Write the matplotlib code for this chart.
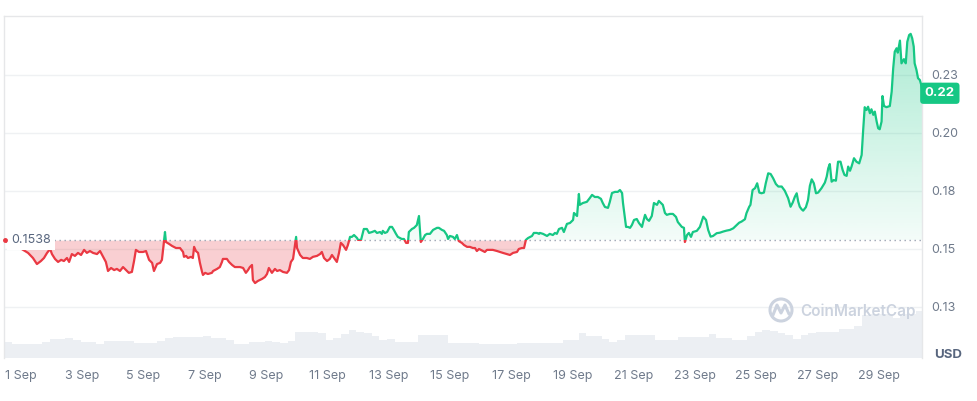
import numpy as np
import matplotlib
matplotlib.use('Agg')
import matplotlib.pyplot as plt
from matplotlib.colors import to_rgb
from matplotlib.patches import Rectangle, Ellipse
from matplotlib.lines import Line2D

plt.rcParams['font.family'] = ['Inter', 'DejaVu Sans']

GREEN = '#16c784'
RED = '#ea3943'
AXIS_TEXT = '#6f7a8b'

# days since 1 Sep 00:00
days_a = [-0.52, -0.36, -0.20, -0.03, 0.23, 0.39, 0.52, 0.65, 0.75, 0.85, 0.95,
          1.01, 1.11, 1.21, 1.31, 1.40, 1.50, 1.57, 1.66, 1.76, 1.86, 1.96,
          2.06, 2.15, 2.25, 2.35, 2.48, 2.58, 2.68, 2.77, 2.84, 2.94,
          3.04, 3.13, 3.23, 3.33, 3.43, 3.52, 3.62, 3.69, 3.75, 3.85, 3.98,
          4.08, 4.18, 4.28, 4.34, 4.44, 4.54, 4.60, 4.70, 4.73, 4.83, 4.93, 5.06]
price_a = [0.1538, 0.1522, 0.1513, 0.1504, 0.1483, 0.1461, 0.1435, 0.1448, 0.1461, 0.1483, 0.1500,
           0.1478, 0.1457, 0.1444, 0.1453, 0.1448, 0.1461, 0.1444, 0.1478, 0.1470, 0.1483, 0.1474,
           0.1496, 0.1483, 0.1491, 0.1483, 0.1478, 0.1491, 0.1466, 0.1444, 0.1405, 0.1418,
           0.1409, 0.1414, 0.1405, 0.1422, 0.1409, 0.1397, 0.1401, 0.1448, 0.1496, 0.1487, 0.1487,
           0.1491, 0.1453, 0.1440, 0.1405, 0.1435, 0.1440, 0.1453, 0.1573, 0.1530, 0.1522, 0.1513, 0.1504]

days_b = [5.19, 5.29, 5.32, 5.39, 5.45, 5.55, 5.61, 5.65, 5.71, 5.78,
          5.84, 5.91, 5.94, 6.01, 6.10, 6.23, 6.27, 6.40, 6.49, 6.56,
          6.59, 6.72, 6.79, 6.89, 6.98, 7.15, 7.25, 7.34, 7.41, 7.47,
          7.54, 7.57, 7.64, 7.73, 7.87, 7.96, 8.03, 8.09, 8.19, 8.29,
          8.36, 8.45, 8.55, 8.68, 8.75, 8.81, 8.88, 8.98, 9.01, 9.11,
          9.20, 9.33, 9.43, 9.53, 9.66, 9.76, 9.82, 9.89, 9.99, 10.08,
          10.15, 10.22, 10.31, 10.38, 10.44, 10.51, 10.61, 10.67, 10.74]
price_b = [0.1504, 0.1487, 0.1466, 0.1470, 0.1461, 0.1466, 0.1461, 0.1509, 0.1491, 0.1483,
           0.1440, 0.1401, 0.1388, 0.1397, 0.1392, 0.1397, 0.1405, 0.1414, 0.1422, 0.1444,
           0.1457, 0.1457, 0.1444, 0.1431, 0.1422, 0.1422, 0.1418, 0.1397, 0.1409, 0.1422,
           0.1431, 0.1366, 0.1353, 0.1362, 0.1371, 0.1379, 0.1392, 0.1418, 0.1397, 0.1414,
           0.1405, 0.1409, 0.1401, 0.1397, 0.1409, 0.1444, 0.1457, 0.1552, 0.1504, 0.1474,
           0.1461, 0.1461, 0.1457, 0.1466, 0.1470, 0.1478, 0.1487, 0.1461, 0.1448, 0.1457,
           0.1474, 0.1461, 0.1444, 0.1483, 0.1526, 0.1517, 0.1496, 0.1517, 0.1552]

days_c = [10.80, 10.87, 10.97, 11.00, 11.10, 11.19, 11.29, 11.36, 11.46, 11.55, 11.62, 11.72, 11.78, 11.81, 11.88, 11.95,
          12.04, 12.11, 12.17, 12.24, 12.30, 12.43, 12.50, 12.57, 12.63, 12.66, 12.76, 12.83, 12.92, 12.99,
          13.05, 13.12, 13.19, 13.25, 13.35, 13.45, 13.58, 13.64, 13.74, 13.81, 13.90, 13.94,
          14.00, 14.10, 14.16, 14.23, 14.29, 14.39, 14.46, 14.56, 14.65, 14.75, 14.82, 14.88, 14.95,
          15.08, 15.14, 15.21, 15.31, 15.40, 15.54, 15.63, 15.73, 15.86, 15.96,
          16.06, 16.19, 16.25, 16.35, 16.42, 16.48, 16.55, 16.68, 16.74, 16.84, 16.91]
price_c = [0.1552, 0.1560, 0.1547, 0.1539, 0.1539, 0.1586, 0.1586, 0.1569, 0.1573, 0.1578, 0.1569, 0.1573, 0.1565, 0.1578, 0.1569, 0.1573,
           0.1595, 0.1595, 0.1582, 0.1565, 0.1552, 0.1543, 0.1543, 0.1526, 0.1526, 0.1573, 0.1586, 0.1591, 0.1603, 0.1642,
           0.1530, 0.1543, 0.1560, 0.1565, 0.1565, 0.1582, 0.1591, 0.1591, 0.1582, 0.1578, 0.1560, 0.1543,
           0.1556, 0.1552, 0.1543, 0.1560, 0.1534, 0.1526, 0.1517, 0.1509, 0.1509, 0.1504, 0.1504, 0.1491, 0.1500,
           0.1491, 0.1487, 0.1496, 0.1496, 0.1496, 0.1491, 0.1487, 0.1483, 0.1478, 0.1474,
           0.1483, 0.1487, 0.1500, 0.1504, 0.1504, 0.1539, 0.1547, 0.1556, 0.1569, 0.1569, 0.1565]

days_d = [16.94, 17.04, 17.17, 17.26, 17.36, 17.43, 17.49, 17.56, 17.66, 17.72, 17.82, 17.92,
          18.02, 18.05, 18.15, 18.21, 18.24, 18.34, 18.47, 18.57, 18.64, 18.73, 18.83, 18.93, 18.99,
          19.06, 19.16, 19.22, 19.29, 19.39, 19.48, 19.55, 19.62, 19.65, 19.71, 19.75, 19.81, 19.88, 19.94,
          20.01, 20.10, 20.17, 20.27, 20.30, 20.37, 20.43, 20.50, 20.59, 20.66, 20.76, 20.82, 20.89, 20.95,
          21.02, 21.08, 21.18, 21.28, 21.38, 21.44, 21.57, 21.64, 21.67, 21.74, 21.80, 21.87, 21.93,
          22.06, 22.16]
price_d = [0.1569, 0.1565, 0.1556, 0.1565, 0.1560, 0.1569, 0.1565, 0.1586, 0.1591, 0.1573, 0.1608, 0.1612,
           0.1625, 0.1655, 0.1642, 0.1737, 0.1690, 0.1698, 0.1703, 0.1720, 0.1733, 0.1724, 0.1724, 0.1716, 0.1698,
           0.1681, 0.1677, 0.1703, 0.1741, 0.1746, 0.1746, 0.1754, 0.1741, 0.1698, 0.1638, 0.1595, 0.1595, 0.1591, 0.1603,
           0.1625, 0.1629, 0.1612, 0.1595, 0.1612, 0.1647, 0.1629, 0.1621, 0.1642, 0.1698, 0.1690, 0.1707, 0.1698, 0.1690,
           0.1655, 0.1647, 0.1651, 0.1651, 0.1638, 0.1616, 0.1595, 0.1591, 0.1530, 0.1560, 0.1569, 0.1552, 0.1573,
           0.1578, 0.1595]

days_e = [22.27, 22.36, 22.43, 22.51, 22.59, 22.71, 22.81, 22.92,
          23.03, 23.14, 23.25, 23.36, 23.44, 23.52, 23.63, 23.68, 23.77, 23.81, 23.88, 23.96,
          24.03, 24.10, 24.17, 24.25, 24.31, 24.39, 24.47, 24.55, 24.64, 24.72, 24.83, 24.93,
          25.04, 25.12, 25.19, 25.26, 25.32, 25.37, 25.42, 25.48, 25.53, 25.62, 25.69, 25.75, 25.81, 25.88, 25.95,
          26.02, 26.13, 26.24, 26.30, 26.35, 26.40, 26.46, 26.53, 26.60, 26.67, 26.75, 26.82, 26.88, 26.95,
          27.00, 27.06, 27.11, 27.19, 27.27, 27.36, 27.44, 27.49, 27.54, 27.60, 27.65, 27.71, 27.76, 27.82, 27.87, 27.93, 27.98,
          28.03, 28.09, 28.12, 28.17, 28.25, 28.36, 28.42, 28.47, 28.52, 28.58, 28.62, 28.69, 28.74, 28.82, 28.88, 28.93, 28.99,
          29.04, 29.09, 29.14, 29.17, 29.23, 29.28, 29.34, 29.40, 29.43]
price_e = [0.1639, 0.1625, 0.1582, 0.1553, 0.1556, 0.1568, 0.1570, 0.1575,
           0.1579, 0.1582, 0.1589, 0.1603, 0.1613, 0.1618, 0.1628, 0.1654, 0.1682, 0.1690, 0.1754, 0.1762,
           0.1783, 0.1743, 0.1740, 0.1743, 0.1783, 0.1826, 0.1823, 0.1805, 0.1780, 0.1769, 0.1769, 0.1751,
           0.1719, 0.1682, 0.1700, 0.1725, 0.1740, 0.1704, 0.1682, 0.1671, 0.1665, 0.1680, 0.1711, 0.1772, 0.1800, 0.1783, 0.1740,
           0.1743, 0.1762, 0.1786, 0.1812, 0.1848, 0.1866, 0.1790, 0.1797, 0.1794, 0.1876, 0.1876, 0.1840, 0.1819, 0.1815,
           0.1855, 0.1837, 0.1855, 0.1891, 0.1876, 0.1869, 0.1905, 0.2013, 0.2111, 0.2099, 0.2113, 0.2085, 0.2102, 0.2078, 0.2092, 0.2049, 0.2020,
           0.2016, 0.2049, 0.2159, 0.2116, 0.2111, 0.2116, 0.2178, 0.2279, 0.2350, 0.2365, 0.2346, 0.2398, 0.2300, 0.2318, 0.2300, 0.2393, 0.2422,
           0.2427, 0.2408, 0.2372, 0.2300, 0.2271, 0.2236, 0.2228, 0.2200, 0.2171]

# volume (relative), one bar per 6 hours starting 31 Aug ~10:50
volume = [16.0, 13.7, 14.2, 13.7, 13.7, 16.4, 18.7, 18.7, 19.7, 17.7,
          16.0, 16.0, 14.4, 17.0, 17.0, 17.0, 17.0, 15.0, 15.0, 15.0,
          16.7, 19.7, 21.4, 21.4, 21.4, 20.7, 21.7, 20.4, 20.4, 18.0,
          14.0, 14.0, 16.0, 16.0, 17.0, 16.4, 14.7, 17.0, 26.4, 26.4,
          26.4, 25.4, 18.0, 19.7, 24.2, 28.2, 26.4, 24.7, 22.0, 18.0,
          19.4, 16.4, 16.4, 16.4, 22.7, 22.7, 22.7, 22.7, 15.4, 15.2,
          14.7, 14.7, 13.7, 13.7, 13.7, 13.7, 13.7, 15.0, 15.0, 15.0,
          15.4, 15.4, 15.4, 18.0, 18.0, 24.7, 22.0, 22.0, 18.7, 16.4,
          18.0, 23.0, 23.0, 23.0, 23.0, 18.0, 18.0, 18.0, 20.7, 21.4,
          21.4, 21.4, 23.7, 20.4, 19.7, 18.0, 18.0, 22.0, 25.7, 28.0,
          27.2, 25.4, 22.7, 19.4, 22.7, 25.4, 26.4, 26.4, 26.4, 28.7,
          28.7, 32.0, 42.7, 43.7, 43.7, 43.7, 40.4, 43.7, 43.7, 46.7]

open_price = 0.1538
yticks = [0.125, 0.15, 0.175, 0.20, 0.225]
ytick_labels = ['0.13', '0.15', '0.18', '0.20', '0.23']
xticks = list(range(0, 30, 2))
xtick_labels = [f'{d + 1} Sep' for d in xticks]

days = np.array(days_a + days_b + days_c + days_d + days_e)
price = np.array(price_a + price_b + price_c + price_d + price_e)
assert len(days) == len(price)

xmin, xmax = -0.555, 29.41
ymin, ymax = 0.1030, 0.2504

fig = plt.figure(figsize=(9.78, 4.01), dpi=100)
rect = [4 / 978, 43 / 401, 918 / 978, 342 / 401]

# volume bars in their own axes underneath
axv = fig.add_axes(rect)
vol_x = -0.55 + 0.25 * np.arange(len(volume))
axv.bar(vol_x, volume, width=0.25, align='edge', color='#eceff3', linewidth=0)
axv.set_xlim(xmin, xmax)
axv.set_ylim(0, 342)
axv.axis('off')

ax = fig.add_axes(rect)
ax.patch.set_alpha(0)

# green gradient area above the open price
g = np.zeros((256, 1, 4))
g[..., :3] = to_rgb(GREEN)
g[:, 0, 3] = np.linspace(0.05, 0.36, 256)
im = ax.imshow(g, extent=[xmin, xmax, open_price, 0.245], origin='lower',
               aspect='auto', zorder=1, interpolation='bilinear')
up = ax.fill_between(days, open_price, np.maximum(price, open_price),
                     facecolor='none', edgecolor='none')
im.set_clip_path(up.get_paths()[0], transform=ax.transData)

ax.fill_between(days, np.minimum(price, open_price), open_price,
                color=RED, alpha=0.24, linewidth=0, zorder=1)

ax.axhline(open_price, color='#9aa3b2', lw=1, ls=(0, (1, 2.6)), zorder=2)

lg, = ax.plot(days, price, color=GREEN, lw=1.6, zorder=3, solid_joinstyle='round')
lg.set_clip_path(Rectangle((xmin - 1, open_price), 40, 1, transform=ax.transData))
lr, = ax.plot(days, price, color=RED, lw=1.6, zorder=3, solid_joinstyle='round')
lr.set_clip_path(Rectangle((xmin - 1, open_price - 1), 40, 1, transform=ax.transData))

ax.set_xlim(xmin, xmax)
ax.set_ylim(ymin, ymax)

ax.yaxis.tick_right()
ax.set_yticks(yticks)
ax.set_yticklabels(ytick_labels)
ax.set_xticks(xticks)
ax.set_xticklabels(xtick_labels)
ax.tick_params(axis='x', length=0, pad=9, labelsize=9, labelcolor=AXIS_TEXT)
ax.tick_params(axis='y', length=0, pad=7, labelsize=9, labelcolor=AXIS_TEXT)
ax.grid(axis='y', color='#eff1f3', lw=1)
ax.set_axisbelow(True)

for s in ['left', 'top', 'right']:
    ax.spines[s].set_color('#e6e7e9')
    ax.spines[s].set_linewidth(1)
ax.spines['bottom'].set_visible(False)

# open price label, covering the start of the line
ax.text(-0.31, open_price, f'{open_price:.4f}', ha='left', va='center', fontsize=9,
        color='#58667e', zorder=5, bbox=dict(fc='white', ec='none', pad=3))
ax.plot([days[0]], [open_price], marker='o', ms=2.5, color=RED, zorder=6, clip_on=False)

# last price tag
ax.annotate(f'{price[-1]:.2f}', xy=(1, price[-1]), xycoords=('axes fraction', 'data'),
            xytext=(2, 0), textcoords='offset points', ha='left', va='center',
            color='white', fontsize=9.5, fontweight='bold', annotation_clip=False,
            bbox=dict(boxstyle='round,pad=0.35,rounding_size=0.25', fc=GREEN, ec='none'))

fig.text(948 / 978, 1 - 355 / 401, 'USD', ha='center', va='center', fontsize=9.5,
         fontweight='bold', color='#58667e')

# watermark
wm = '#ccd3df'
fig.text(800 / 978, 1 - 311 / 401, 'CoinMarketCap', ha='left', va='center',
         fontsize=11, fontweight='semibold', color=wm)
fig.add_artist(Ellipse((781 / 978, 1 - 310 / 401), 22 / 978, 22 / 401,
                       transform=fig.transFigure, fill=False, ec=wm, lw=2.2))
fig.add_artist(Line2D(np.array([773, 777, 781, 785, 789]) / 978,
                      1 - np.array([315, 305, 313, 305, 314]) / 401,
                      transform=fig.transFigure, color=wm, lw=2.2,
                      solid_joinstyle='round', solid_capstyle='round'))

fig.savefig('out.png', dpi=100)
